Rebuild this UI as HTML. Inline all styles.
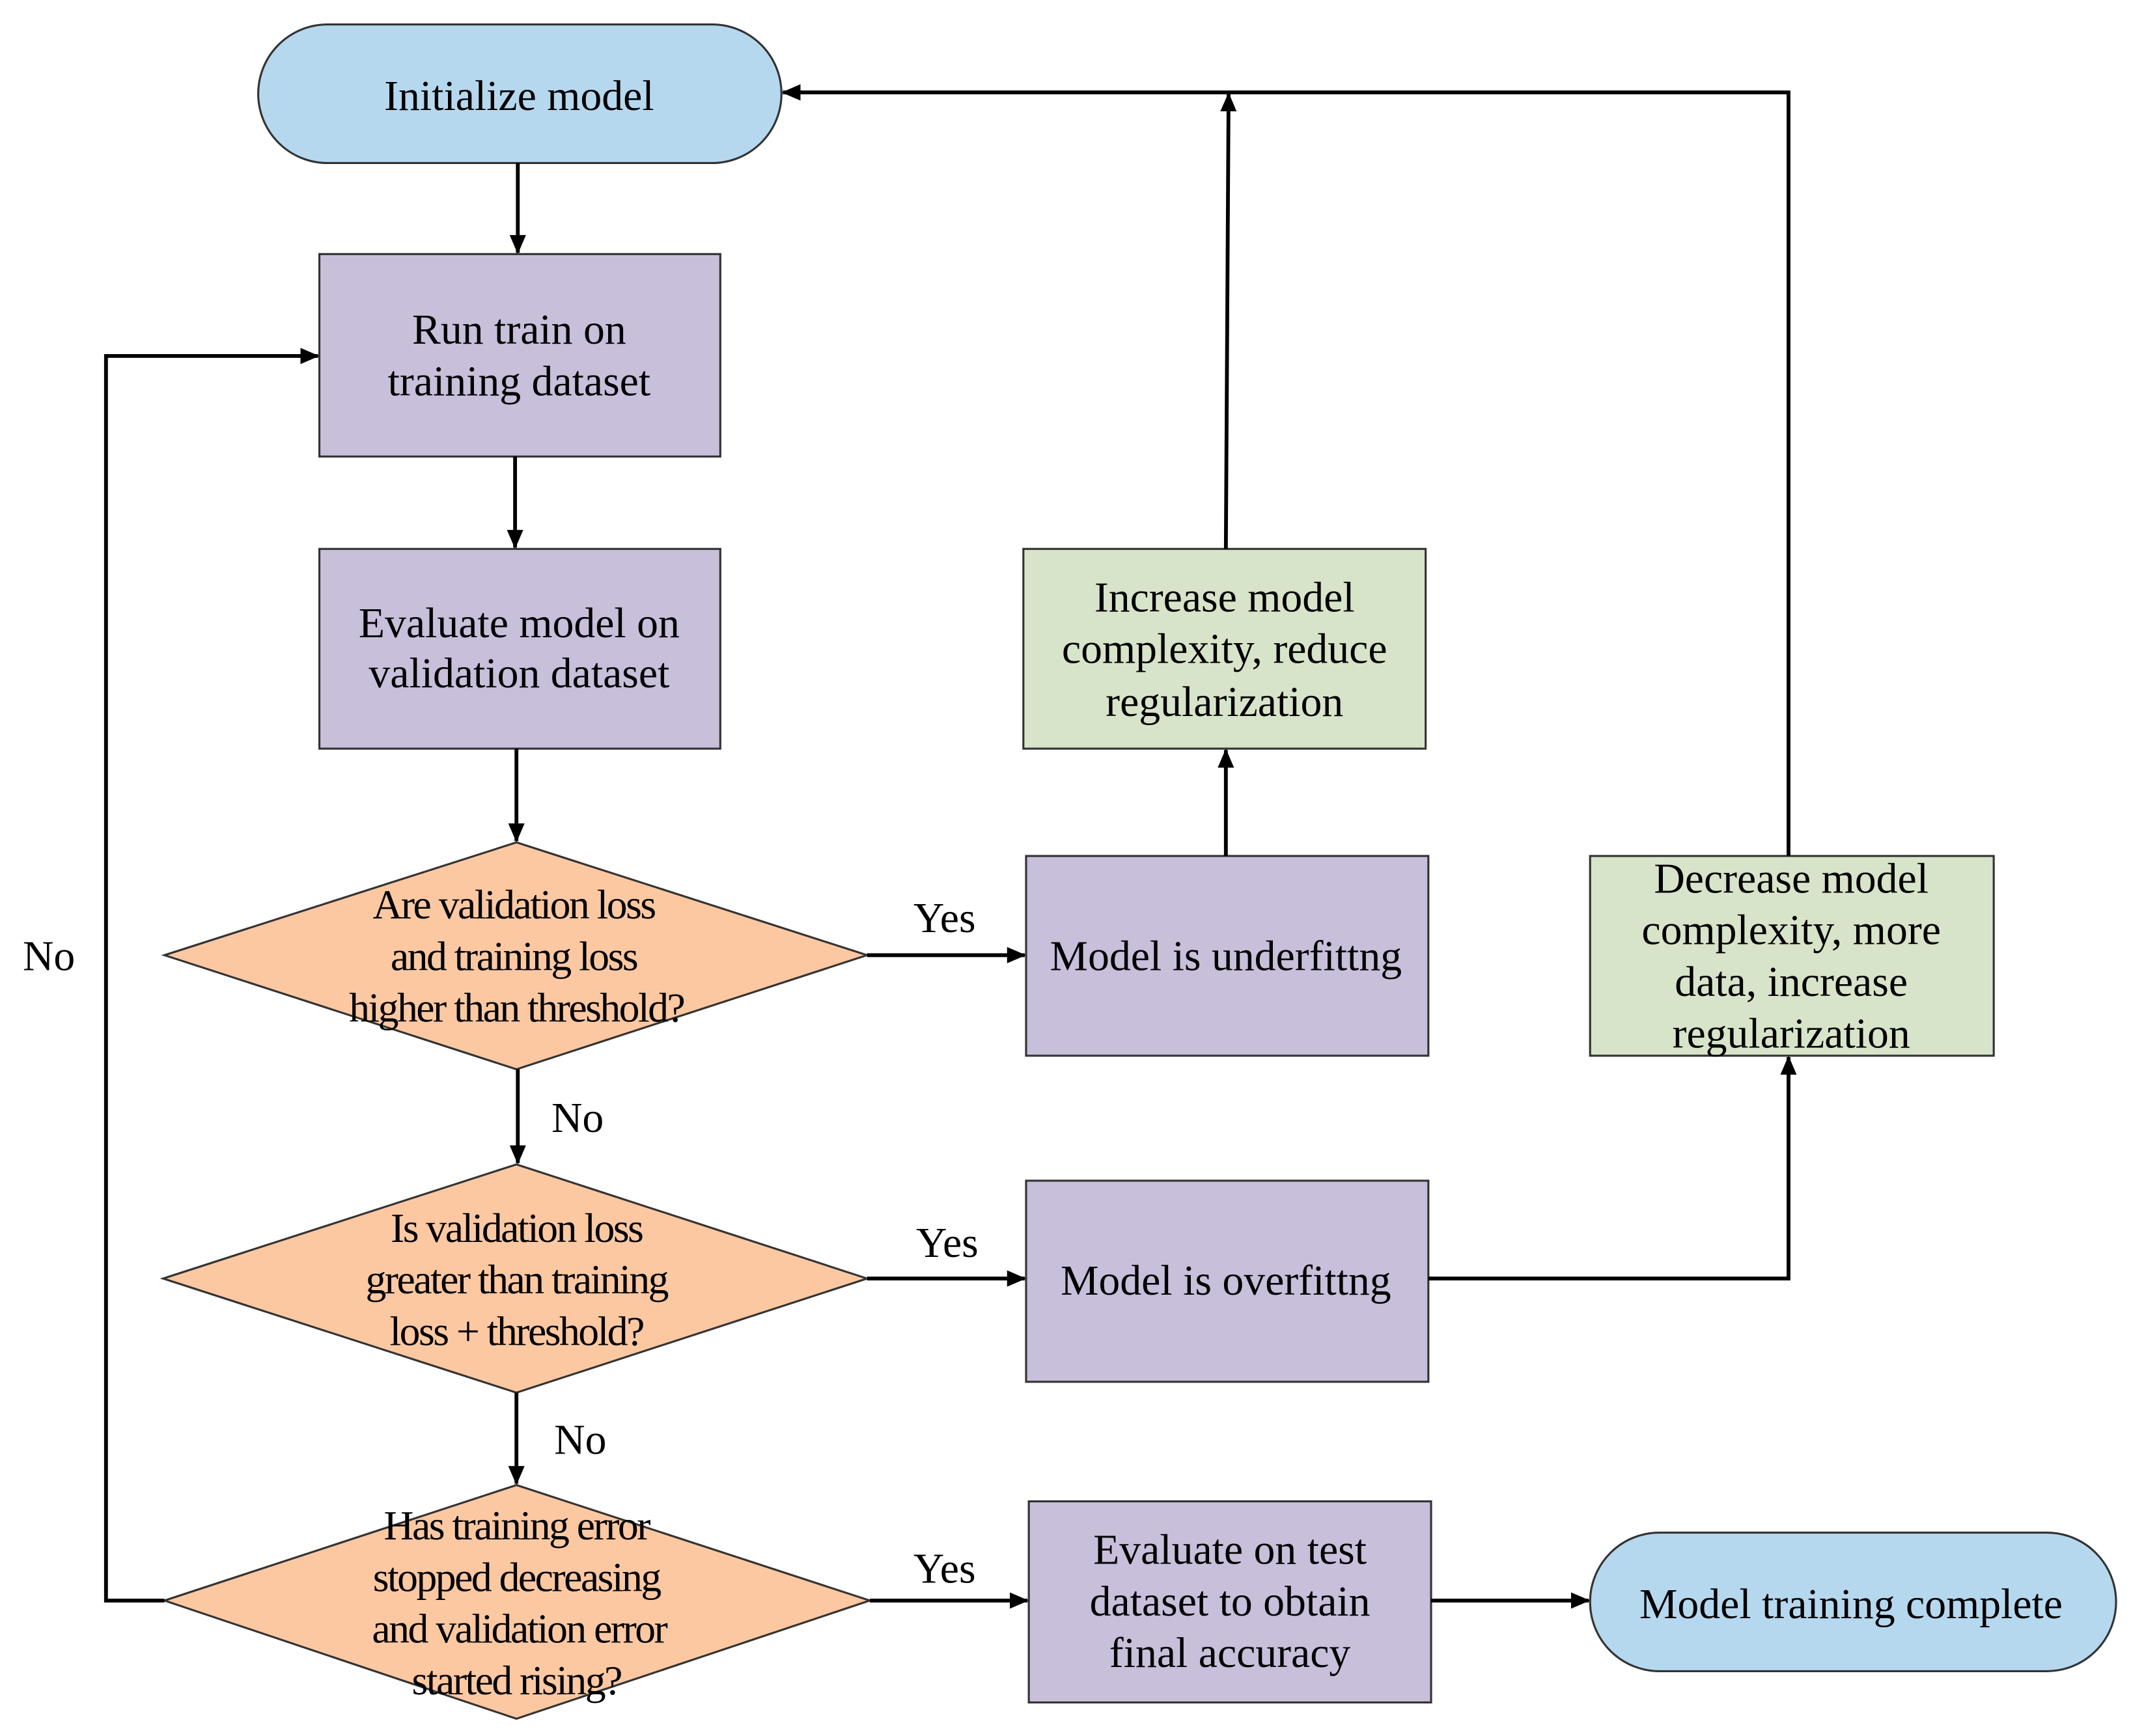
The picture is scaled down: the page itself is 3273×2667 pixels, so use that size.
<!DOCTYPE html>
<html><head><meta charset="utf-8"><style>html,body{margin:0;padding:0;background:#fff}svg{display:block}</style></head>
<body>
<svg xmlns="http://www.w3.org/2000/svg" width="3273" height="2667" viewBox="0 0 1568 1277.7" preserveAspectRatio="none">
<defs><marker id="a" markerWidth="14" markerHeight="12" refX="13" refY="6" orient="auto" markerUnits="userSpaceOnUse"><path d="M0,0 L14,6 L0,12 z" fill="#000"/></marker></defs>
<g font-family="Liberation Serif, serif" font-size="31.5" text-anchor="middle" fill="#000">
<g stroke="#333" stroke-width="1.5">
<rect x="190" y="18" width="385" height="102" rx="51" fill="#b6d8ef"/>
<rect x="235" y="187" width="295" height="149" fill="#c8bfdb"/>
<rect x="235" y="404" width="295" height="147" fill="#c8bfdb"/>
<rect x="753" y="404" width="296" height="147" fill="#d8e4c9"/>
<rect x="755" y="630" width="296" height="147" fill="#c8bfdb"/>
<rect x="1170" y="630" width="297" height="147" fill="#d8e4c9"/>
<rect x="755" y="869" width="296" height="148" fill="#c8bfdb"/>
<rect x="757" y="1105" width="296" height="148" fill="#c8bfdb"/>
<rect x="1170" y="1128" width="387" height="102" rx="51" fill="#b6d8ef"/>
<polygon points="380,620 638,703 380,787 121,703" fill="#fcc8a2"/>
<polygon points="380,857 638,941 380,1025 120,941" fill="#fcc8a2"/>
<polygon points="380,1093 640,1178 380,1265 121,1178" fill="#fcc8a2"/>
</g>
<g stroke="#000" stroke-width="2.8" fill="none" marker-end="url(#a)">
<line x1="381" y1="120" x2="381" y2="186"/>
<line x1="379" y1="336" x2="379" y2="403"/>
<line x1="380" y1="551" x2="380" y2="619"/>
<line x1="381" y1="787" x2="381" y2="856"/>
<line x1="380" y1="1025" x2="380" y2="1092"/>
<line x1="638" y1="703" x2="754" y2="703"/>
<line x1="638" y1="941" x2="754" y2="941"/>
<line x1="640" y1="1178" x2="756" y2="1178"/>
<line x1="1053" y1="1178" x2="1169" y2="1178"/>
<line x1="902" y1="630" x2="902" y2="552"/>
<line x1="902" y1="404" x2="904" y2="69"/>
<polyline points="1316,630 1316,68 576,68"/>
<polyline points="1051,941 1316,941 1316,778"/>
<polyline points="121,1178 78,1178 78,262 234,262"/>
</g>
<text x="382" y="81">Initialize model</text>
<text x="382" y="253">Run train on</text>
<text x="382" y="291">training dataset</text>
<text x="382" y="469">Evaluate model on</text>
<text x="382" y="506">validation dataset</text>
<text x="901" y="450">Increase model</text>
<text x="901" y="488">complexity, reduce</text>
<text x="901" y="527">regularization</text>
<text x="902" y="714">Model is underfittng</text>
<text x="1318" y="657">Decrease model</text>
<text x="1318" y="695">complexity, more</text>
<text x="1318" y="733">data, increase</text>
<text x="1318" y="771">regularization</text>
<text x="902" y="953">Model is overfittng</text>
<text x="905" y="1151">Evaluate on test</text>
<text x="905" y="1189">dataset to obtain</text>
<text x="905" y="1227">final accuracy</text>
<text x="1362" y="1191">Model training complete</text>
<g letter-spacing="-1.2" font-size="30.5">
<text x="378" y="676">Are validation loss</text>
<text x="378" y="714">and training loss</text>
<text x="380" y="752">higher than threshold?</text>
<text x="380" y="914">Is validation loss</text>
<text x="380" y="952">greater than training</text>
<text x="380" y="990">loss + threshold?</text>
<text x="380" y="1133">Has training error</text>
<text x="380" y="1171">stopped decreasing</text>
<text x="382" y="1209">and validation error</text>
<text x="380" y="1247">started rising?</text>
</g>
<text x="695" y="686">Yes</text>
<text x="697" y="925">Yes</text>
<text x="695" y="1165">Yes</text>
<text x="425" y="833">No</text>
<text x="427" y="1070">No</text>
<text x="36" y="714">No</text>
</g>
</svg>
</body></html>
